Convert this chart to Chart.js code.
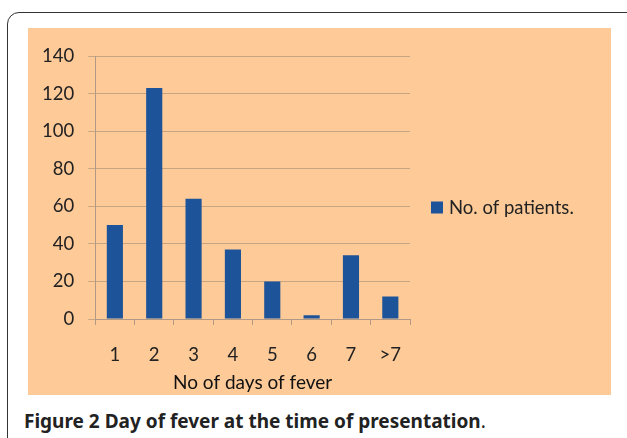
<!DOCTYPE html>
<html>
<head>
<meta charset="utf-8">
<script src="https://cdn.jsdelivr.net/npm/chart.js@4"></script>
<style>
  body { margin: 0; background: #fff; width: 627px; height: 438px; overflow: hidden; position: relative; }
  #frame { position: absolute; left: 7px; top: 12px; width: 640px; height: 460px; border: 1.5px solid #333; border-radius: 12px; }
  #panel { position: absolute; left: 28px; top: 28px; width: 583px; height: 367px; background: #fdca98; }
  #caption { position: absolute; left: 24px; top: 408px; font-family: "Noto Sans", "Open Sans", sans-serif; font-size: 19px; color: #222; }
  #caption b { font-weight: 700; }
</style>
</head>
<body>
<div id="frame"></div>
<div id="panel"><canvas id="barChart" width="583" height="367"></canvas></div>
<div id="caption"><b>Figure 2 Day of fever at the time of presentation</b>.</div>
<script>
// data
const days = ['1', '2', '3', '4', '5', '6', '7', '>7'];
const patients = [50, 123, 64, 37, 20, 2, 34, 12];
const yTicks = [0, 20, 40, 60, 80, 100, 120, 140];
const seriesName = 'No. of patients.';
const barColor = '#1d5399';

// legend drawn by hand so the text is not clipped
const sideLegend = {
  id: 'sideLegend',
  afterDraw(chart) {
    const c = chart.ctx;
    const x = chart.chartArea.right + 21;
    const y = chart.height / 2 - 4;
    c.save();
    c.fillStyle = barColor;
    c.fillRect(x, y - 6, 12, 12);
    c.fillStyle = '#222';
    c.font = '18.5px Lato';
    c.textBaseline = 'middle';
    c.fillText(seriesName, x + 18, y + 1);
    c.restore();
  }
};

function drawChart() {
  const ctx = document.getElementById('barChart').getContext('2d');
  new Chart(ctx, {
    type: 'bar',
    data: {
      labels: days,
      datasets: [{
        label: seriesName,
        data: patients,
        backgroundColor: barColor,
        borderWidth: 0,
        barPercentage: 0.41,
        categoryPercentage: 1
      }]
    },
    options: {
      responsive: false,
      animation: false,
      layout: { padding: { top: 28, left: 0, right: 201, bottom: 1 } },
      scales: {
        y: {
          min: yTicks[0],
          max: yTicks[yTicks.length - 1],
          afterBuildTicks: axis => { axis.ticks = yTicks.map(v => ({ value: v })); },
          border: { display: true, color: '#b09a86', width: 1 },
          grid: { color: '#c6a583', lineWidth: 1, tickLength: 7 },
          ticks: { color: '#222', padding: 14, font: { family: 'Lato', size: 18.5 } }
        },
        x: {
          border: { display: true, color: '#b09a86', width: 1 },
          grid: { drawOnChartArea: false, drawTicks: true, tickLength: 6, color: '#b09a86' },
          ticks: { color: '#222', padding: 19, font: { family: 'Lato', size: 18.5 } },
          title: { display: true, text: 'No of days of fever', color: '#111', padding: { top: -14, bottom: 0 }, font: { family: 'Lato', size: 19 } }
        }
      },
      plugins: {
        legend: { display: false },
        tooltip: { enabled: false }
      }
    },
    plugins: [sideLegend]
  });
}

Promise.all([
  document.fonts.load('18.5px Lato'),
  document.fonts.load('19px Lato')
]).then(drawChart, drawChart);
</script>
</body>
</html>
